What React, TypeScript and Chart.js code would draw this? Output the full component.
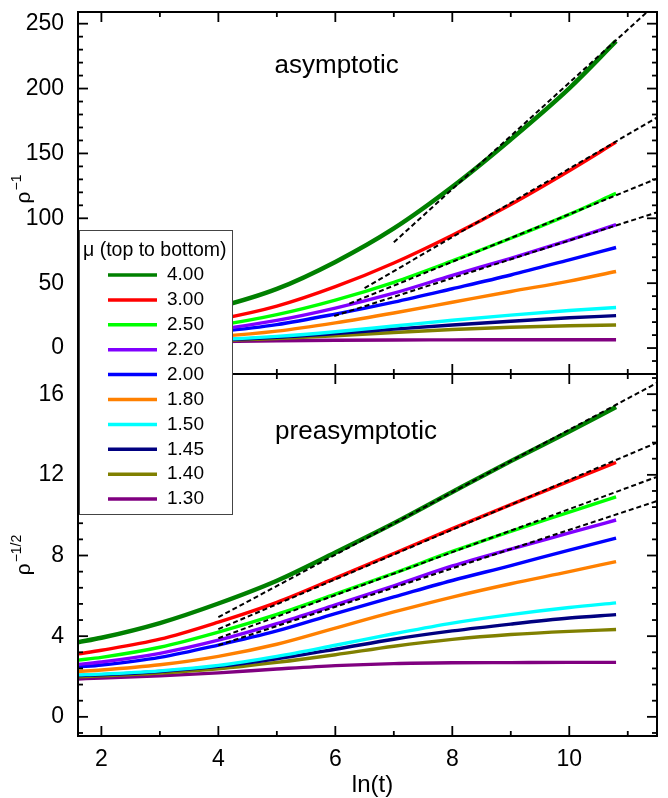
import React, { useEffect, useRef } from "react";
import { Chart, registerables } from "chart.js";

Chart.register(...registerables);

const FONT = "'Liberation Sans', Arial, Helvetica, sans-serif";

// ln(t) sampling positions of the curves
const lnT = [1.6, 2, 3, 4, 5, 6, 7, 8, 9, 10, 10.8];

// legend labels (mu) and colours
const muLabels = ["4.00", "3.00", "2.50", "2.20", "2.00", "1.80", "1.50", "1.45", "1.40", "1.30"];
const muColors = ["#008000", "#ff0000", "#00ff00", "#8000ff", "#0000ff", "#ff8000", "#00ffff", "#000080", "#808000", "#800080"];

// top panel: rho^-1 (asymptotic)
const top400 = [13.7, 15.4, 21.6, 31.6, 45.6, 66.4, 92.2, 124.3, 160.8, 200.2, 236.5];
const top300 = [9.7, 10.9, 14.8, 22.1, 32.3, 47.3, 65.6, 87.0, 110.7, 136.7, 158.7];
const top250 = [7.9, 8.7, 11.9, 17.6, 25.8, 37.0, 50.7, 67.2, 84.6, 103.0, 119.2];
const top220 = [6.8, 7.4, 9.9, 14.4, 21.3, 30.8, 42.3, 56.0, 69.2, 83.2, 95.1];
const top200 = [6.1, 6.6, 8.7, 12.7, 18.1, 26.2, 35.4, 45.7, 56.3, 68.0, 77.5];
const top180 = [5.1, 5.4, 6.7, 9.0, 13.0, 19.4, 27.0, 35.3, 43.6, 51.6, 59.0];
const top150 = [4.3, 4.5, 5.2, 6.5, 9.0, 12.6, 17.0, 21.4, 25.4, 28.9, 31.2];
const top145 = [4.2, 4.4, 5.1, 6.3, 8.3, 11.2, 14.6, 17.8, 20.7, 23.3, 25.0];
const top140 = [4.0, 4.1, 4.7, 5.7, 7.3, 9.4, 12.0, 14.3, 16.0, 17.2, 17.8];
const top130 = [3.5, 3.7, 4.2, 5.0, 5.6, 6.0, 6.2, 6.3, 6.4, 6.4, 6.4];

// bottom panel: rho^-1/2 (preasymptotic)
const bot400 = [3.70, 3.92, 4.65, 5.62, 6.75, 8.15, 9.60, 11.15, 12.68, 14.15, 15.36];
const bot300 = [3.12, 3.30, 3.85, 4.70, 5.68, 6.88, 8.10, 9.33, 10.52, 11.69, 12.61];
const bot250 = [2.81, 2.95, 3.45, 4.20, 5.08, 6.08, 7.12, 8.20, 9.20, 10.15, 10.91];
const bot220 = [2.60, 2.72, 3.15, 3.80, 4.62, 5.55, 6.50, 7.48, 8.32, 9.12, 9.76];
const bot200 = [2.47, 2.57, 2.95, 3.56, 4.26, 5.12, 5.95, 6.76, 7.50, 8.27, 8.86];
const bot180 = [2.25, 2.32, 2.58, 3.00, 3.60, 4.40, 5.20, 5.94, 6.60, 7.20, 7.70];
const bot150 = [2.08, 2.12, 2.28, 2.55, 3.00, 3.55, 4.12, 4.65, 5.07, 5.42, 5.65];
const bot145 = [2.05, 2.09, 2.25, 2.50, 2.88, 3.35, 3.85, 4.26, 4.60, 4.90, 5.07];
const bot140 = [1.99, 2.03, 2.17, 2.38, 2.70, 3.08, 3.50, 3.84, 4.08, 4.24, 4.33];
const bot130 = [1.88, 1.92, 2.03, 2.18, 2.37, 2.54, 2.64, 2.68, 2.69, 2.70, 2.70];

// dashed asymptotic fits: [x, y] end points
const topFit400 = [[7.0, 81.5], [11.33, 259]];
const topFit300 = [[6.5, 46.1], [11.5, 177.7]];
const topFit250 = [[6.24, 34.2], [11.5, 130.6]];
const topFit220 = [[5.98, 24.7], [11.5, 104.6]];
const botFit400 = [[4.0, 4.94], [11.5, 16.56]];
const botFit300 = [[4.0, 4.35], [11.5, 13.6]];
const botFit250 = [[4.0, 3.9], [11.5, 11.9]];
const botFit220 = [[4.0, 3.55], [11.5, 10.7]];

// axes
const xRange = [1.6, 11.5];
const xTicks = [2, 4, 6, 8, 10];
const topRange = [-20, 259];
const topTicks = [0, 50, 100, 150, 200, 250];
const botRange = [-0.95, 17];
const botTicks = [0, 4, 8, 12, 16];

const topSeries = [top400, top300, top250, top220, top200, top180, top150, top145, top140, top130];
const botSeries = [bot400, bot300, bot250, bot220, bot200, bot180, bot150, bot145, bot140, bot130];
const topFits = [topFit400, topFit300, topFit250, topFit220];
const botFits = [botFit400, botFit300, botFit250, botFit220];

function drawRotTitle(ctx: CanvasRenderingContext2D, bx: number, cy: number, base: string, sup: string) {
  ctx.save();
  ctx.fillStyle = "#000";
  ctx.translate(bx, cy);
  ctx.rotate(-Math.PI / 2);
  ctx.textBaseline = "alphabetic";
  ctx.textAlign = "left";
  ctx.font = `21px ${FONT}`;
  const wb = ctx.measureText(base).width;
  ctx.font = `14px ${FONT}`;
  const ws = ctx.measureText(sup).width;
  const total = wb + 1 + ws;
  ctx.font = `21px ${FONT}`;
  ctx.fillText(base, -total / 2, 0);
  ctx.font = `14px ${FONT}`;
  ctx.fillText(sup, -total / 2 + wb + 1, -9);
  ctx.restore();
}

const decorPlugin = {
  id: "panelDecor",
  afterDatasetsDraw(chart: any) {
    const ctx: CanvasRenderingContext2D = chart.ctx;
    const ca = chart.chartArea;
    const xs = chart.scales.x;
    const yT = chart.scales.yT;
    const yB = chart.scales.yB;
    ctx.save();
    ctx.strokeStyle = "#000";
    ctx.lineCap = "butt";
    const seg = (x1: number, y1: number, x2: number, y2: number) => {
      ctx.beginPath();
      ctx.moveTo(x1, y1);
      ctx.lineTo(x2, y2);
      ctx.stroke();
    };
    ctx.lineWidth = 1.8;
    const panels: [any, number[]][] = [[yT, topTicks], [yB, botTicks]];
    for (const [s, ticks] of panels) {
      const minor = (ticks[1] - ticks[0]) / 5;
      const k0 = Math.ceil((s.min - ticks[0]) / minor - 1e-9);
      const k1 = Math.floor((s.max - ticks[0]) / minor + 1e-9);
      for (let k = k0; k <= k1; k++) {
        const v = ticks[0] + k * minor;
        const major = k % 5 === 0;
        const len = major ? 10 : 5;
        const py = s.getPixelForValue(v);
        seg(ca.left, py, ca.left + len, py);
        seg(ca.right, py, ca.right - len, py);
      }
    }
    const xMinor = (xTicks[1] - xTicks[0]) / 2;
    const j0 = Math.ceil((xs.min - xTicks[0]) / xMinor - 1e-9);
    const j1 = Math.floor((xs.max - xTicks[0]) / xMinor + 1e-9);
    for (let j = j0; j <= j1; j++) {
      const v = xTicks[0] + j * xMinor;
      const major = j % 2 === 0;
      const len = major ? 10 : 5;
      const px = xs.getPixelForValue(v);
      seg(px, yT.top, px, yT.top + len);
      seg(px, yT.bottom, px, yT.bottom - len);
      seg(px, yB.top, px, yB.top + len);
      seg(px, yB.bottom, px, yB.bottom - len);
    }
    ctx.lineWidth = 2;
    ctx.strokeRect(ca.left, ca.top, ca.right - ca.left, ca.bottom - ca.top);
    seg(ca.left, yT.bottom, ca.right, yT.bottom);
    ctx.restore();
  },
  afterDraw(chart: any) {
    const ctx: CanvasRenderingContext2D = chart.ctx;
    const ca = chart.chartArea;
    const xs = chart.scales.x;
    const yT = chart.scales.yT;
    const yB = chart.scales.yB;
    ctx.save();
    // legend box
    const lx = ca.left + 1;
    const ly = 222;
    const lw = 154;
    const lh = 285;
    ctx.fillStyle = "#fff";
    ctx.fillRect(lx, ly, lw, lh);
    ctx.strokeStyle = "#444";
    ctx.lineWidth = 1;
    ctx.strokeRect(lx + 0.5, ly + 0.5, lw - 1, lh - 1);
    // left frame line stays visible over the legend
    ctx.strokeStyle = "#000";
    ctx.lineWidth = 2;
    ctx.beginPath();
    ctx.moveTo(ca.left, ly);
    ctx.lineTo(ca.left, ly + lh);
    ctx.stroke();
    ctx.fillStyle = "#000";
    ctx.textBaseline = "middle";
    ctx.textAlign = "left";
    ctx.font = `19.5px ${FONT}`;
    ctx.fillText("\u03bc (top to bottom)", lx + 4, ly + 21);
    ctx.font = `19px ${FONT}`;
    for (let i = 0; i < muLabels.length; i++) {
      const cy = ly + 45 + i * 24.9;
      ctx.strokeStyle = muColors[i];
      ctx.lineWidth = 3.5;
      ctx.beginPath();
      ctx.moveTo(lx + 29, cy);
      ctx.lineTo(lx + 78, cy);
      ctx.stroke();
      ctx.fillStyle = "#000";
      ctx.fillText(muLabels[i], lx + 88, cy);
    }
    // panel labels
    ctx.textBaseline = "alphabetic";
    ctx.font = `26px ${FONT}`;
    ctx.fillText("asymptotic", xs.getPixelForValue(4.96), yT.getPixelForValue(212));
    ctx.fillText("preasymptotic", xs.getPixelForValue(4.97), yB.getPixelForValue(13.76));
    // x title
    ctx.textAlign = "center";
    ctx.textBaseline = "middle";
    ctx.font = `24px ${FONT}`;
    ctx.fillText("ln(t)", (ca.left + ca.right) / 2 + 5, 777);
    ctx.restore();
    // y titles
    drawRotTitle(ctx, ca.left - 48, (yT.top + yT.bottom) / 2 - 4, "\u03c1", "\u22121");
    drawRotTitle(ctx, ca.left - 48, (yB.top + yB.bottom) / 2, "\u03c1", "\u22121/2");
  },
};

function buildDatasets() {
  const ds: any[] = [];
  const fitStyle = {
    borderColor: "#000",
    borderWidth: 2,
    borderDash: [5, 3],
    pointRadius: 0,
    fill: false,
    tension: 0,
  };
  topFits.forEach((f) => {
    ds.push({ ...fitStyle, data: f.map(([x, y]) => ({ x, y })), xAxisID: "x", yAxisID: "yT" });
  });
  botFits.forEach((f) => {
    ds.push({ ...fitStyle, data: f.map(([x, y]) => ({ x, y })), xAxisID: "x", yAxisID: "yB" });
  });
  const addSeries = (arrs: number[][], axis: string) => {
    arrs.forEach((arr, i) => {
      ds.push({
        label: muLabels[i],
        data: arr.map((y, k) => ({ x: lnT[k], y })),
        borderColor: muColors[i],
        borderWidth: i === 0 ? 4.5 : 3.4,
        pointRadius: 0,
        fill: false,
        cubicInterpolationMode: "monotone",
        xAxisID: "x",
        yAxisID: axis,
      });
    });
  };
  addSeries(topSeries, "yT");
  addSeries(botSeries, "yB");
  return ds;
}

export default function App() {
  const ref = useRef<HTMLCanvasElement | null>(null);
  useEffect(() => {
    if (!ref.current) return;
    const tickFont = { family: FONT, size: 23 };
    const yCommon = (range: number[], ticks: number[]) => ({
      type: "linear" as const,
      position: "left" as const,
      stack: "panels",
      stackWeight: 1,
      min: range[0],
      max: range[1],
      grid: { display: false, drawTicks: false },
      border: { display: false },
      ticks: { font: tickFont, color: "#000", padding: 14, autoSkip: false },
      afterBuildTicks: (s: any) => {
        s.ticks = ticks.map((v) => ({ value: v }));
      },
      afterFit: (s: any) => {
        s.width = 70;
        s.paddingTop = 0;
        s.paddingBottom = 0;
      },
    });
    const chart = new Chart(ref.current, {
      type: "line",
      data: { datasets: buildDatasets() },
      options: {
        animation: false,
        responsive: false,
        devicePixelRatio: 1,
        layout: { padding: { top: 4, right: 3, left: 0, bottom: 0 } },
        plugins: { legend: { display: false }, tooltip: { enabled: false } },
        scales: {
          x: {
            type: "linear",
            position: "bottom",
            min: xRange[0],
            max: xRange[1],
            grid: { display: false, drawTicks: false },
            border: { display: false },
            ticks: { font: tickFont, color: "#000", padding: 10, autoSkip: false, maxRotation: 0 },
            afterBuildTicks: (s: any) => {
              s.ticks = xTicks.map((v) => ({ value: v }));
            },
            afterFit: (s: any) => {
              s.height = 62;
              s.paddingLeft = 0;
              s.paddingRight = 0;
            },
          },
          yB: yCommon(botRange, botTicks),
          yT: yCommon(topRange, topTicks),
        },
      } as any,
      plugins: [decorPlugin],
    });
    return () => chart.destroy();
  }, []);
  return <canvas ref={ref} width={652} height={790} style={{ display: "block", width: 652, height: 790 }} />;
}
